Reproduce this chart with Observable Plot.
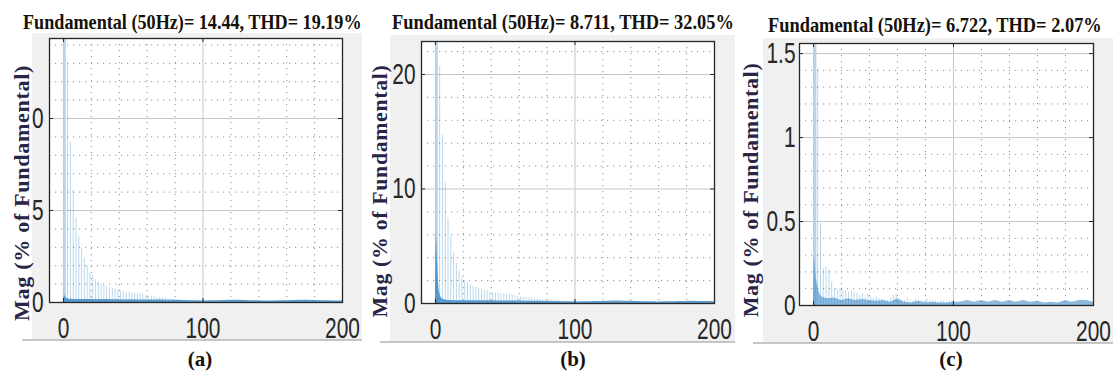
<!DOCTYPE html>
<html><head><meta charset="utf-8">
<script src="https://cdn.jsdelivr.net/npm/d3@7"></script>
<script src="https://cdn.jsdelivr.net/npm/@observablehq/plot@0.6"></script>
<style>
html,body{margin:0;padding:0;background:#fff;}
#root{position:relative;width:1115px;height:374px;overflow:hidden;background:#fff;}
#root svg{position:absolute;top:0;}
</style></head><body><div id="root"></div>
<script>
// ---------- data ----------
const titles = ["Fundamental (50Hz)= 14.44, THD= 19.19%", "Fundamental (50Hz)= 8.711, THD= 32.05%", "Fundamental (50Hz)= 6.722, THD= 2.07%"];
const captions = ["(a)", "(b)", "(c)"];
const yAxisLabel = "Mag (% of Fundamental)";

const xMajorTicks = [0, 100, 200];
const xMinorTicks = [20, 40, 60, 80, 120, 140, 160, 180];

const yTicksA = [0, 5, 10];
const yTickLabelsA = ["0", "5", "0"];
const yMinorA = [1, 2, 3, 4, 6, 7, 8, 9, 11, 12, 13, 14];
const yTicksB = [0, 10, 20];
const yTickLabelsB = ["0", "10", "20"];
const yMinorB = [2, 4, 6, 8, 12, 14, 16, 18, 22];
const yTicksC = [0, 0.5, 1, 1.5];
const yTickLabelsC = ["0", "0.5", "1", "1.5"];
const yMinorC = [0.1, 0.2, 0.3, 0.4, 0.6, 0.7, 0.8, 0.9, 1.1, 1.2, 1.3, 1.4];

// fundamental bar (100 % of fundamental, clipped by the axes)
const fundamentalOrder = [1];
const fundamentalMag = [100];

// harmonic stems
const harmonicOrders = [3,5,7,9,11,13,15,17,19,21,23,25,27,29,31,33,35,37,39,41,43,45,47,49,51,53,55,57,59,61,63,65,67,69,71,73,75,77,79,81,83,85,87,89,91,93,95,97,99];
const stemsA = [13.0,8.7,6.1,4.6,3.6,2.9,2.4,2.0,1.6,1.45, 1.25,1.1,1.0,0.92,0.85,0.8,0.76,0.72,0.68,0.64, 0.6,0.57,0.55,0.52,0.5,0.48,0.45,0.42,0.4,0.37, 0.34,0.31,0.29,0.27,0.25,0.23,0.21,0.19,0.17,0.16, 0.15,0.14,0.13,0.12,0.11,0.1,0.1,0.09,0.08];
const stemsB = [20.7,14.7,10.5,7.4,5.8,4.4,3.5,2.9,2.3,2.0, 1.85,1.65,1.5,1.42,1.33,1.25,1.18,1.1,1.03,0.97, 0.93,0.9,0.87,0.83,0.8,0.77,0.73,0.68,0.63,0.58, 0.55,0.52,0.49,0.46,0.43,0.41,0.39,0.36,0.34,0.32, 0.3,0.28,0.26,0.24,0.22,0.2,0.18,0.16,0.14];
const stemsC = [1.41,0.49,0.22,0.23,0.21,0.14,0.10,0.09,0.10,0.09, 0.09,0.08,0.09,0.08,0.07,0.06,0.07,0.05,0.07,0.05, 0.04,0.05,0.04,0.04,0.03,0.03,0.04,0.06,0.07,0.04, 0.03,0.03,0.04,0.03,0.03,0.04,0.03,0.03,0.03,0.04, 0.03,0.03,0.03,0.02,0.03,0.03,0.02,0.03,0.03];

// dense low-level spectrum (noise floor / leakage)
const noiseOrders = [0,0.5,1,1.5,2,2.5,3,4,5,6,8,10,15,20,25,30,35,40,45,50,55,60,65,70,75,80,85,90,95,100,105,110,115,120,125,130,135,140,145,150,155,160,165,170,175,180,185,190,195,200];
const noiseA = [0.05,0.35,0.4,0.3,0.25,0.22,0.2,0.18,0.17,0.17,0.16,0.16, 0.16,0.16,0.15,0.16,0.15,0.15,0.14,0.15,0.14,0.14,0.13,0.13,0.12,0.12,0.11,0.1,0.09,0.08, 0.09,0.1,0.11,0.12,0.12,0.11,0.1,0.09,0.08,0.08,0.09,0.1,0.11,0.12,0.12,0.11,0.1,0.09,0.08,0.08];
const noiseB = [0.5,6.3,5.2,3.6,2.2,1.3,0.9,0.55,0.4,0.33,0.28,0.26, 0.25,0.25,0.24,0.24,0.23,0.23,0.22,0.22,0.21,0.21,0.2,0.2,0.19,0.18,0.17,0.16,0.15,0.14, 0.15,0.16,0.17,0.18,0.2,0.21,0.2,0.19,0.18,0.16,0.15,0.14,0.15,0.16,0.17,0.18,0.19,0.18,0.17,0.16];
const noiseC = [0.04,0.29,0.27,0.21,0.16,0.14,0.12,0.08,0.06,0.05,0.045,0.04, 0.045,0.03,0.04,0.03,0.035,0.03,0.025,0.03,0.02,0.04,0.02,0.015,0.025,0.015,0.02,0.015,0.015,0.02, 0.02,0.03,0.02,0.03,0.02,0.03,0.02,0.03,0.02,0.03,0.02,0.025,0.015,0.02,0.015,0.03,0.02,0.03,0.03,0.02];

// ---------- layout ----------
const panels = [
  {left: 0,   width: 372, ml: 49, mr: 30, mt: 38, mb: 72, yMax: 14.35, yTicks: yTicksA, yLabels: yTickLabelsA, yMinor: yMinorA, stems: stemsA, noise: noiseA, ytp: 6, fundW: 2, noiseOp: 0.85,
   bg: [32, 33, 362, 340], title: [23, 29, 339], ylab: [29, 193, 256], cap: [200, 366]},
  {left: 372, width: 371, ml: 49, mr: 29, mt: 41, mb: 71, yMax: 22.88, yTicks: yTicksB, yLabels: yTickLabelsB, yMinor: yMinorB, stems: stemsB, noise: noiseB, ytp: 6, fundW: 2, noiseOp: 0.85,
   bg: [390, 35, 735, 342], title: [392, 29, 342], ylab: [387, 191, 253], cap: [573, 366]},
  {left: 743, width: 372, ml: 56, mr: 22, mt: 43, mb: 69, yMax: 1.56, yTicks: yTicksC, yLabels: yTickLabelsC, yMinor: yMinorC, stems: stemsC, noise: noiseC, ytp: 4, fundW: 3, noiseOp: 0.6,
   bg: [763, 38, 1113, 343], title: [768, 32, 334], ylab: [758, 190, 255], cap: [951, 366]}
];

const root = document.getElementById("root");
const NS = "http://www.w3.org/2000/svg";

// background svg (figure grey)
const bgSvg = document.createElementNS(NS, "svg");
bgSvg.setAttribute("width", 1115); bgSvg.setAttribute("height", 374);
bgSvg.style.left = "0px";
panels.forEach(p => {
  const [x0, y0, x1, y1] = p.bg;
  const r = document.createElementNS(NS, "rect");
  r.setAttribute("x", x0); r.setAttribute("y", y0); r.setAttribute("width", x1 - x0); r.setAttribute("height", y1 - y0);
  r.setAttribute("fill", "#f0f0f0");
  bgSvg.appendChild(r);
  const l = document.createElementNS(NS, "line");
  l.setAttribute("x1", x0 - 10); l.setAttribute("x2", x1); l.setAttribute("y1", y1); l.setAttribute("y2", y1);
  l.setAttribute("stroke", "#b4b4b4"); l.setAttribute("stroke-width", 1.5);
  bgSvg.appendChild(l);
});
root.appendChild(bgSvg);

panels.forEach(p => {
  const stems = harmonicOrders.map((h, i) => ({h, m: p.stems[i]}));
  const noise = noiseOrders.map((h, i) => ({h, m: p.noise[i]}));
  const fund = fundamentalOrder.map((h, i) => ({h, m: fundamentalMag[i]}));
  const plotH = 374 - p.mt - p.mb, plotW = p.width - p.ml - p.mr;
  const dark = "#262626";
  const svg = Plot.plot({
    width: p.width, height: 374,
    marginLeft: p.ml, marginRight: p.mr, marginTop: p.mt, marginBottom: p.mb,
    x: {domain: [-10, 200]},
    y: {domain: [0, p.yMax]},
    style: {background: "transparent", fontFamily: "'Liberation Sans', Arial, sans-serif", fontSize: "29px", color: dark, overflow: "visible"},
    marks: [
      Plot.frame({fill: "white", stroke: "none"}),
      Plot.ruleX(xMinorTicks, {x: d => d, stroke: "#8f8f8f", strokeWidth: 1, strokeDasharray: "1.2,4.8"}),
      Plot.ruleY(p.yMinor, {y: d => d, stroke: "#8f8f8f", strokeWidth: 1, strokeDasharray: "1.2,4.8"}),
      Plot.ruleX(xMajorTicks, {x: d => d, stroke: "#c6c6c6"}),
      Plot.ruleY(p.yTicks, {y: d => d, stroke: "#c6c6c6"}),
      Plot.ruleX(fund, {x: "h", y1: 0, y2: "m", stroke: "#b9d5ee", strokeWidth: p.fundW, clip: true}),
      Plot.ruleX(stems, {x: "h", y1: 0, y2: "m", stroke: "#0072BD", strokeOpacity: 0.28, strokeWidth: 1, clip: true}),
      Plot.areaY(noise, {x: "h", y: "m", fill: "#3f8bc7", fillOpacity: p.noiseOp, clip: true}),
      Plot.frame({stroke: dark, strokeWidth: 1.3}),
      Plot.ruleX(xMajorTicks, {x: d => d, insetTop: plotH - 4, stroke: dark}),
      Plot.ruleX(xMajorTicks, {x: d => d, insetBottom: plotH - 4, stroke: dark}),
      Plot.ruleY(p.yTicks, {y: d => d, insetRight: plotW - 4, stroke: dark}),
      Plot.ruleY(p.yTicks, {y: d => d, insetLeft: plotW - 4, stroke: dark}),
      Plot.axisX(xMajorTicks, {tickSize: 0, tickPadding: 15, label: null, fontSize: 29}),
      Plot.axisY(p.yTicks, {tickSize: 0, tickPadding: p.ytp, label: null, fontSize: 29, tickFormat: d => p.yLabels[p.yTicks.indexOf(d)]})
    ]
  });
  svg.style.left = p.left + "px";
  // narrow the tick label glyphs like the reference
  svg.querySelectorAll('g[aria-label$="tick label"] text').forEach(t => {
    const tr = t.getAttribute("transform") || "";
    t.setAttribute("transform", tr + " scale(0.72,1)");
  });
  root.appendChild(svg);
});

// overlay texts
const ov = document.createElementNS(NS, "svg");
ov.setAttribute("width", 1115); ov.setAttribute("height", 374);
ov.style.left = "0px";
root.appendChild(ov);
const serif = "'Liberation Serif', 'Times New Roman', serif";
function fitText(el, target, base) {
  ov.appendChild(el);
  const n = el.getComputedTextLength();
  const s = n > 0 ? target / n : 1;
  el.setAttribute("transform", base + ` scale(${s.toFixed(4)},1)`);
}
panels.forEach((p, i) => {
  const t = document.createElementNS(NS, "text");
  t.setAttribute("font-family", serif);
  t.setAttribute("font-weight", "bold"); t.setAttribute("font-size", 22); t.setAttribute("fill", "#16110a");
  t.textContent = titles[i];
  fitText(t, p.title[2], `translate(${p.title[0]},${p.title[1]})`);

  const yl = document.createElementNS(NS, "text");
  yl.setAttribute("text-anchor", "middle");
  yl.setAttribute("font-family", serif); yl.setAttribute("font-weight", "bold");
  yl.setAttribute("font-size", 20); yl.setAttribute("fill", "#2a2446");
  yl.setAttribute("letter-spacing", "0.6");
  yl.textContent = yAxisLabel;
  fitText(yl, p.ylab[2], `translate(${p.ylab[0]},${p.ylab[1]}) rotate(-90)`);

  const c = document.createElementNS(NS, "text");
  c.setAttribute("x", p.cap[0]); c.setAttribute("y", p.cap[1]);
  c.setAttribute("text-anchor", "middle");
  c.setAttribute("font-family", serif);
  c.setAttribute("font-weight", "bold"); c.setAttribute("font-size", 21); c.setAttribute("fill", "#16110a");
  c.textContent = captions[i];
  ov.appendChild(c);
});
</script>
</body></html>
